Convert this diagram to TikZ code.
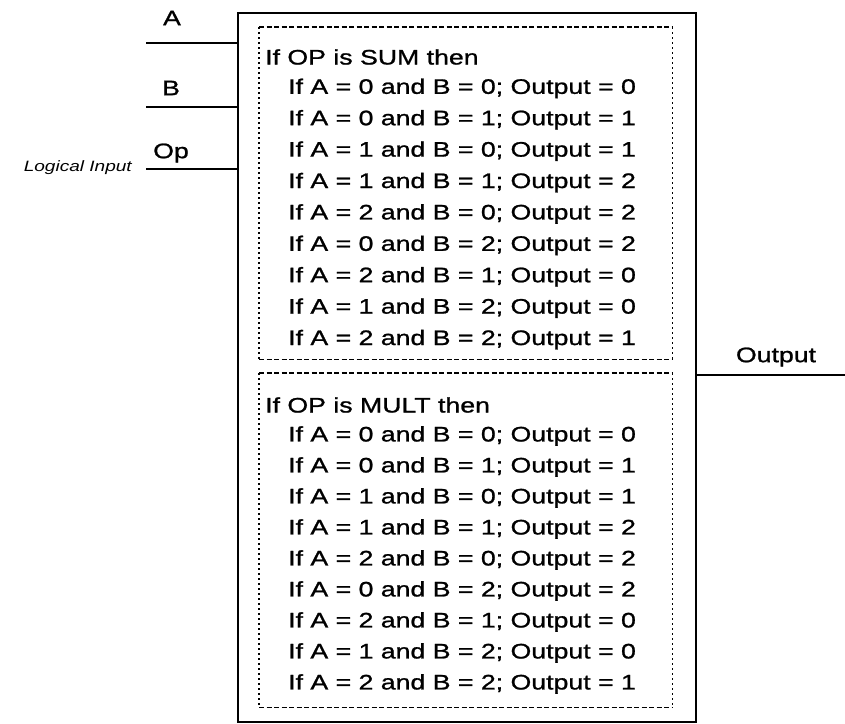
\documentclass[tikz,border=0pt]{standalone}
\usepackage{fontspec}
\setmainfont[FakeStretch=1.27, FakeBold=1.1]{Liberation Sans}
\newfontfamily\slimfont[FakeStretch=1.27]{Liberation Sans}
\newcommand{\rowfont}{\fontsize{21}{25}\selectfont}
\tikzset{
  wire/.style={line width=1.4pt},
  hdash/.style={line width=1.3pt, dash pattern=on 5pt off 2.5pt},
  vdot/.style={line width=1.6pt, dash pattern=on 2pt off 3pt},
  txt/.style={anchor=west, inner sep=0pt, font=\rowfont},
  casebox/.style={minimum width=413, minimum height=332, anchor=north west, inner sep=0pt}
}
\begin{document}
\begin{tikzpicture}[x=1pt, y=-1pt]
      \useasboundingbox (0,0) rectangle (845,723);

      % the block
      \node[draw, line width=1.9pt, minimum width=458, minimum height=709,
            anchor=north west, inner sep=0pt] (blk) at (237,12) {};

      % inputs
      \coordinate (inA) at (146,43);
      \coordinate (inB) at (146,107);
      \coordinate (inOp) at (146,169);
      \draw[wire] (inA) -- (inA -| blk.west);
      \draw[wire] (inB) -- (inB -| blk.west);
      \draw[wire] (inOp) -- (inOp -| blk.west);
      \node[txt, anchor=center] (labA) at (172,18) {A};
      \node[txt, anchor=center] (labB) at (171,88) {B};
      \node[txt, anchor=center] (labOp) at (171,153) {Op};
      \node[anchor=east, inner sep=0pt, font=\fontsize{15}{18}\slimfont\itshape] (logic) at (132,168) {Logical Input};

      % output
      \coordinate (outE) at (845,375);
      \draw[wire] (blk.east |- outE) -- (outE);
      \node[txt, anchor=center] (labOut) at (776,357) {Output};

      % the two cases
      \node[casebox] (sum) at (259,27) {};
      \node[casebox, minimum height=334] (mult) at (259,373) {};
      \foreach \bx in {sum,mult} {
        \draw[hdash] (\bx.north west) -- (\bx.north east);
        \draw[hdash] (\bx.south west) -- (\bx.south east);
        \draw[vdot] (\bx.north west) -- (\bx.south west);
        \draw[vdot] (\bx.north east) -- (\bx.south east);
      }
      \node[txt] (sumhd) at (265,57) {If OP is SUM then};
      \node[txt] (multhd) at (265,405) {If OP is MULT then};
      \foreach \a/\b/\o [count=\i] in {0/0/0,0/1/1,1/0/1,1/1/2,2/0/2,0/2/2,2/1/0,1/2/0,2/2/1} {
        \node[txt] (sum\i) at (288,57+31.4*\i) {If A = \a\ and B = \b; Output = \o};
        \node[txt] (mult\i) at (288,405+31*\i) {If A = \a\ and B = \b; Output = \o};
      }
    \end{tikzpicture}
\end{document}
